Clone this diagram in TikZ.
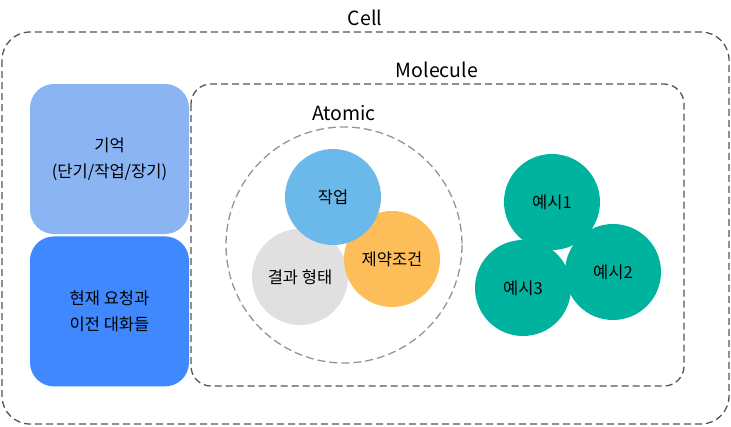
\documentclass[tikz,border=0pt]{standalone}
\usepackage{fontspec}
\setmainfont{Noto Sans CJK KR}
\usetikzlibrary{positioning}
\definecolor{memory}{HTML}{8AB4F2}
\definecolor{request}{HTML}{3F88FE}
\definecolor{task}{HTML}{6BB8EA}
\definecolor{limit}{HTML}{FDBE5A}
\definecolor{result}{HTML}{E0E0E0}
\definecolor{sample}{HTML}{00B39F}
\definecolor{frame}{HTML}{555555}
\definecolor{ring}{HTML}{8797A6}

\begin{document}
\begin{tikzpicture}[x=1pt, y=-1pt,
      layer/.style={draw=frame, line width=1.3pt, dash pattern=on 7pt off 4pt},
      title/.style={font=\fontsize{19.5}{22}\selectfont},
      block/.style={rounded corners=24pt, minimum width=159pt, minimum height=150pt,
                    align=center, font=\fontsize{16.5}{26}\selectfont, inner sep=0pt},
      part/.style={circle, minimum size=96pt, inner sep=0pt, font=\fontsize{16.5}{18}\selectfont}
    ]
      \useasboundingbox (0,0) rectangle (731,426);

      % Layers
      \draw[layer, rounded corners=28pt] (2,32) rectangle (729,424);
      \node[title] (cell) at (365,18) {Cell};
      \draw[layer, rounded corners=20pt] (191,84) rectangle (684,386);
      \node[title] (molecule) at (437,70) {Molecule};

      % Context blocks
      \node[block, fill=memory] (memory) at (109.5,159) {기억\\(단기/작업/장기)};
      \node[block, fill=request, below=2pt of memory] (request) {현재 요청과\\이전 대화들};

      % Atomic
      \draw[draw=ring, line width=1.3pt, dash pattern=on 8pt off 4pt] (344,245) circle (118);
      \node[title] (atomic) at (344,113) {Atomic};
      \node[part, fill=result] (result) at (300,277) {결과 형태};
      \node[part, fill=limit] (limit) at (392,259) {제약조건};
      \node[part, fill=task] (task) at (333,197) {작업};

      % Examples
      \node[part, fill=sample] (ex1) at (552,202) {예시1};
      \node[part, fill=sample] (ex3) at (523,288) {예시3};
      \node[part, fill=sample] (ex2) at (613,272) {예시2};
    \end{tikzpicture}
\end{document}
